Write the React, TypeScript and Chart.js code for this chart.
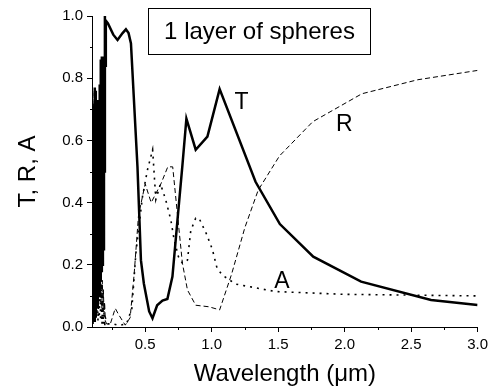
import React, { useEffect, useRef } from "react";
import { Chart, registerables } from "chart.js";

Chart.register(...registerables);

const FONT = "'Liberation Sans', Arial, sans-serif";

// Transmission (T) – solid
const tX = [
  0.100, 0.103, 0.106, 0.109, 0.112, 0.115, 0.118, 0.121, 0.124, 0.127, 0.130, 0.133,
  0.136, 0.139, 0.142, 0.145, 0.148, 0.151, 0.154, 0.158, 0.162, 0.166, 0.170, 0.174,
  0.178, 0.182, 0.186, 0.190, 0.194, 0.197, 0.200, 0.204, 0.220, 0.260, 0.292, 0.330,
  0.355, 0.375, 0.393, 0.442, 0.468, 0.490, 0.530, 0.555, 0.590, 0.630, 0.667, 0.705,
  0.740, 0.780, 0.810, 0.880, 0.968, 1.060, 1.330, 1.513, 1.764, 2.124, 2.650, 3.000,
];
const tY = [
  0.02, 0.64, 0.01, 0.66, 0.03, 0.70, 0.02, 0.77, 0.05, 0.76, 0.03, 0.72,
  0.08, 0.73, 0.06, 0.70, 0.12, 0.72, 0.10, 0.78, 0.15, 0.86, 0.18, 0.87,
  0.20, 0.86, 0.25, 0.87, 0.50, 1.00, 0.84, 0.985, 0.976, 0.94, 0.923, 0.945,
  0.957, 0.945, 0.912, 0.515, 0.215, 0.14, 0.05, 0.028, 0.07, 0.085, 0.09, 0.162,
  0.33, 0.52, 0.67, 0.57, 0.612, 0.765, 0.467, 0.331, 0.226, 0.146, 0.087, 0.071,
];

// Reflection (R) – dashed
const rX = [
  0.100, 0.103, 0.106, 0.109, 0.112, 0.115, 0.118, 0.121, 0.124, 0.127, 0.130, 0.133,
  0.136, 0.139, 0.142, 0.145, 0.148, 0.151, 0.154, 0.158, 0.162, 0.166, 0.170, 0.174,
  0.178, 0.182, 0.186, 0.190, 0.195, 0.200, 0.210, 0.240, 0.275, 0.300, 0.350, 0.387,
  0.417, 0.450, 0.500, 0.545, 0.618, 0.670, 0.707, 0.742, 0.780, 0.818, 0.880, 0.980,
  1.060, 1.150, 1.250, 1.350, 1.510, 1.760, 2.130, 2.550, 3.000,
];
const rY = [
  0.79, 0.30, 0.76, 0.28, 0.72, 0.22, 0.70, 0.15, 0.62, 0.14, 0.55, 0.18,
  0.45, 0.16, 0.38, 0.20, 0.30, 0.18, 0.25, 0.12, 0.22, 0.08, 0.18, 0.06,
  0.15, 0.05, 0.12, 0.04, 0.08, 0.02, 0.01, 0.013, 0.06, 0.04, 0.006, 0.03,
  0.17, 0.36, 0.46, 0.40, 0.46, 0.515, 0.515, 0.365, 0.205, 0.119, 0.07, 0.065,
  0.055, 0.17, 0.32, 0.44, 0.55, 0.66, 0.75, 0.795, 0.825,
];

// Absorption (A) – dotted
const aX = [
  0.100, 0.104, 0.108, 0.112, 0.116, 0.120, 0.124, 0.128, 0.132, 0.136, 0.140, 0.145,
  0.150, 0.155, 0.160, 0.165, 0.170, 0.175, 0.180, 0.185, 0.190, 0.195, 0.200, 0.220,
  0.260, 0.300, 0.360, 0.400, 0.430, 0.455, 0.480, 0.517, 0.556, 0.580, 0.615, 0.655,
  0.693, 0.718, 0.750, 0.780, 0.818, 0.843, 0.880, 0.905, 0.960, 1.005, 1.040, 1.080,
  1.180, 1.480, 2.000, 3.000,
];
const aY = [
  0.12, 0.02, 0.15, 0.03, 0.16, 0.02, 0.14, 0.03, 0.18, 0.04, 0.15, 0.02,
  0.13, 0.03, 0.16, 0.02, 0.12, 0.01, 0.10, 0.01, 0.07, 0.00, 0.03, 0.01,
  0.01, 0.005, 0.01, 0.06, 0.237, 0.33, 0.42, 0.505, 0.57, 0.41, 0.46, 0.408,
  0.344, 0.28, 0.226, 0.205, 0.215, 0.31, 0.35, 0.35, 0.30, 0.25, 0.19, 0.167,
  0.138, 0.114, 0.105, 0.10,
];

const xTicks = [0.5, 1.0, 1.5, 2.0, 2.5, 3.0];
const xMinorTicks = [0.25, 0.75, 1.25, 1.75, 2.25, 2.75];
const yTicks = [0.0, 0.2, 0.4, 0.6, 0.8, 1.0];
const yMinorTicks = [0.1, 0.3, 0.5, 0.7, 0.9];

const curveLabels = ["T", "R", "A"];
const curveLabelX = [1.224, 1.998, 1.529];
const curveLabelY = [0.72, 0.65, 0.146];

const boxTitle = "1 layer of spheres";

const pts = (xs: number[], ys: number[]) => xs.map((x, i) => ({ x, y: ys[i] }));

const extrasPlugin = {
  id: "extras",
  afterDraw(chart: any) {
    const { ctx, chartArea, scales } = chart;
    const xs = scales.x;
    const ys = scales.y;
    ctx.save();
    // minor ticks
    ctx.strokeStyle = "#000";
    ctx.lineWidth = 1;
    ctx.beginPath();
    xMinorTicks.forEach((v) => {
      const px = Math.round(xs.getPixelForValue(v)) + 0.5;
      ctx.moveTo(px, chartArea.bottom);
      ctx.lineTo(px, chartArea.bottom + 3);
    });
    yMinorTicks.forEach((v) => {
      const py = Math.round(ys.getPixelForValue(v)) + 0.5;
      ctx.moveTo(chartArea.left, py);
      ctx.lineTo(chartArea.left - 2, py);
    });
    ctx.stroke();
    // curve labels
    ctx.fillStyle = "#000";
    ctx.font = `23px ${FONT}`;
    ctx.textAlign = "center";
    ctx.textBaseline = "middle";
    curveLabels.forEach((t, i) => {
      ctx.fillText(t, xs.getPixelForValue(curveLabelX[i]), ys.getPixelForValue(curveLabelY[i]));
    });
    // title box
    const bx = chartArea.left + 56.5;
    const by = chartArea.top - 7.5;
    const bw = 222;
    const bh = 46;
    ctx.fillStyle = "#fff";
    ctx.fillRect(bx, by, bw, bh);
    ctx.strokeStyle = "#000";
    ctx.lineWidth = 1;
    ctx.strokeRect(bx, by, bw, bh);
    ctx.fillStyle = "#000";
    ctx.font = `24px ${FONT}`;
    ctx.fillText(boxTitle, bx + bw / 2, by + bh / 2 + 1);
    ctx.restore();
  },
};

export default function App() {
  const ref = useRef<HTMLCanvasElement | null>(null);
  useEffect(() => {
    document.body.style.margin = "0";
    const canvas = ref.current;
    if (!canvas) return;
    const chart = new Chart(canvas, {
      type: "line",
      data: {
        datasets: [
          {
            label: "R",
            data: pts(rX, rY),
            borderColor: "#000",
            borderWidth: 1,
            borderDash: [5, 3],
            pointRadius: 0,
            tension: 0,
          },
          {
            label: "A",
            data: pts(aX, aY),
            borderColor: "#000",
            borderWidth: 1.6,
            borderDash: [2, 5],
            pointRadius: 0,
            tension: 0,
          },
          {
            label: "T",
            data: pts(tX, tY),
            borderColor: "#000",
            borderWidth: 2.5,
            pointRadius: 0,
            tension: 0,
          },
        ],
      },
      options: {
        animation: false,
        responsive: false,
        maintainAspectRatio: false,
        layout: { padding: { top: 16, right: 13, left: 0, bottom: 0 } },
        plugins: { legend: { display: false }, tooltip: { enabled: false } },
        scales: {
          x: {
            type: "linear",
            min: 0.1,
            max: 3.0,
            afterBuildTicks: (s: any) => {
              s.ticks = xTicks.map((v) => ({ value: v }));
            },
            afterFit: (s: any) => {
              s.height = 64;
            },
            grid: { display: true, drawOnChartArea: false, drawTicks: true, tickLength: 5, tickColor: "#000" },
            border: { display: true, color: "#000", width: 1 },
            ticks: {
              color: "#000",
              font: { family: FONT, size: 15 },
              padding: 4,
              maxRotation: 0,
              autoSkip: false,
              callback: (v: any) => Number(v).toFixed(1),
            },
            title: {
              display: true,
              text: "Wavelength (\u03bcm)",
              color: "#000",
              font: { family: FONT, size: 24, lineHeight: 1.2 },
              padding: { top: 0, bottom: 2 },
            },
          },
          y: {
            type: "linear",
            min: 0,
            max: 1.0,
            afterBuildTicks: (s: any) => {
              s.ticks = yTicks.map((v) => ({ value: v }));
            },
            afterFit: (s: any) => {
              s.width = 92;
            },
            grid: { display: true, drawOnChartArea: false, drawTicks: true, tickLength: 5, tickColor: "#000" },
            border: { display: true, color: "#000", width: 1 },
            ticks: {
              color: "#000",
              font: { family: FONT, size: 15 },
              padding: 4,
              autoSkip: false,
              callback: (v: any) => Number(v).toFixed(1),
            },
            title: {
              display: true,
              text: "T, R, A",
              color: "#000",
              font: { family: FONT, size: 24, lineHeight: 1.2 },
              padding: { top: 14, bottom: 0 },
            },
          },
        },
      },
      plugins: [extrasPlugin],
    });
    return () => chart.destroy();
  }, []);
  return (
    <div style={{ width: 492, height: 391 }}>
      <canvas ref={ref} width={492} height={391} style={{ display: "block", width: 492, height: 391 }} />
    </div>
  );
}
